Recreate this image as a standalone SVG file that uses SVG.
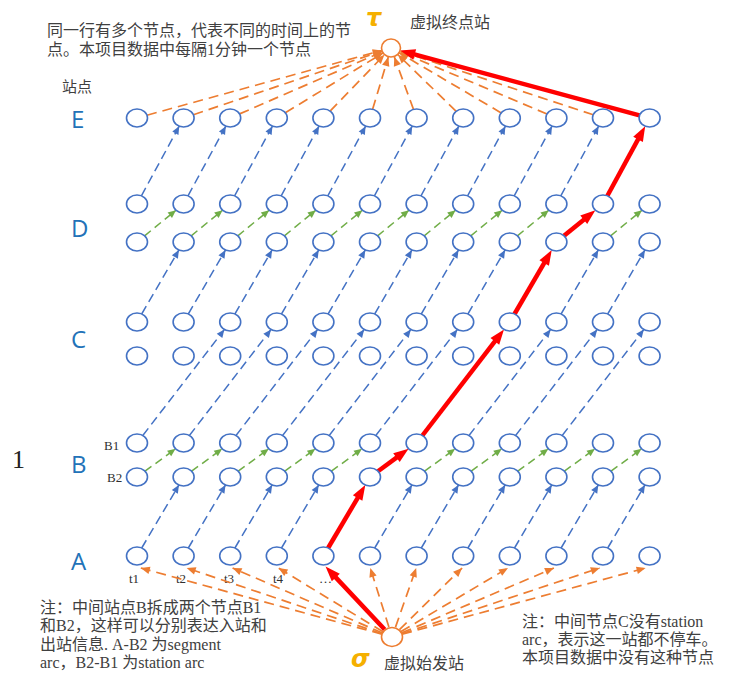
<svg xmlns="http://www.w3.org/2000/svg" width="737" height="675" viewBox="0 0 737 675">
<style>
.n{fill:#fff;stroke:#4472C4;stroke-width:1.6}
.vn{fill:#fff;stroke:#ED7D31;stroke-width:1.6}
.b{fill:none;stroke:#4472C4;stroke-width:1.5;stroke-dasharray:9 5;marker-end:url(#ab)}
.g{fill:none;stroke:#70AD47;stroke-width:1.5;stroke-dasharray:8 5;marker-end:url(#ag)}
.o{fill:none;stroke:#ED7D31;stroke-width:1.7;stroke-dasharray:10 6;marker-end:url(#ao)}
.r{fill:none;stroke:#FF0000;stroke-width:4.5;marker-end:url(#ar)}
.cn{font-family:"Liberation Serif","Noto Sans CJK SC",serif;font-size:16px;fill:#404040}
.sm{font-family:"Liberation Serif","Noto Sans CJK SC",serif;font-size:13px;fill:#303030}
.row{font-family:"Open Sans","Liberation Sans",sans-serif;font-size:24px;fill:#2272B8}
.gk{font-family:"DejaVu Sans",sans-serif;font-size:24px;font-style:italic;font-weight:bold;fill:#F5B000}
</style>
<defs>
<marker id="ab" markerUnits="userSpaceOnUse" markerWidth="9" markerHeight="8" refX="8" refY="3.5" orient="auto" overflow="visible"><path d="M0,0 L8,3.5 L0,7 z" fill="#4472C4"/></marker>
<marker id="ag" markerUnits="userSpaceOnUse" markerWidth="9" markerHeight="8" refX="8" refY="3.5" orient="auto" overflow="visible"><path d="M0,0 L8,3.5 L0,7 z" fill="#70AD47"/></marker>
<marker id="ao" markerUnits="userSpaceOnUse" markerWidth="10" markerHeight="8" refX="9" refY="3.75" orient="auto" overflow="visible"><path d="M0,0 L9,3.75 L0,7.5 z" fill="#ED7D31"/></marker>
<marker id="ar" markerUnits="userSpaceOnUse" markerWidth="16" markerHeight="12" refX="6" refY="5.5" orient="auto" overflow="visible"><path d="M0,0 L15,5.5 L0,11 z" fill="#FF0000"/></marker>
</defs>

<g id="labels">
<text class="cn" x="47" y="36">同一行有多个节点，代表不同的时间上的节</text>
<text class="cn" x="47" y="55">点。本项目数据中每隔1分钟一个节点</text>
<text class="cn" x="62" y="92" style="font-size:15px">站点</text>
<text class="gk" x="366" y="26">τ</text>
<text class="cn" x="410" y="28">虚拟终点站</text>
<text class="row" x="71" y="128">E</text>
<text class="row" x="71" y="237">D</text>
<text class="row" x="71" y="348">C</text>
<text class="row" x="71" y="473">B</text>
<text class="row" x="71" y="570">A</text>
<text x="12" y="468" style="font-family:'Liberation Serif',serif;font-size:26px;fill:#202020">1</text>
<text class="sm" x="104" y="450">B1</text>
<text class="sm" x="107" y="482">B2</text>
<text class="sm" x="129" y="583">t1</text>
<text class="sm" x="176" y="583">t2</text>
<text class="sm" x="224" y="583">t3</text>
<text class="sm" x="273" y="583">t4</text>
<text class="sm" x="319" y="583">…</text>
<text class="cn" x="40" y="613">注：中间站点B拆成两个节点B1</text>
<text class="cn" x="40" y="631">和B2，这样可以分别表达入站和</text>
<text class="cn" x="40" y="650">出站信息. A-B2 为segment</text>
<text class="cn" x="40" y="668">arc，B2-B1 为station arc</text>
<text class="cn" x="522" y="627">注：中间节点C没有station</text>
<text class="cn" x="522" y="645">arc，表示这一站都不停车。</text>
<text class="cn" x="522" y="663">本项目数据中没有这种节点</text>
<text class="gk" x="351" y="667">σ</text>
<text class="cn" x="384" y="669">虚拟始发站</text>
</g>

<g id="connectors">
<!-- A -> B2 segment arcs -->
<line class="b" x1="141.7" y1="548" x2="178.9" y2="485"/>
<line class="b" x1="188.3" y1="548" x2="225.5" y2="485"/>
<line class="b" x1="234.9" y1="548" x2="272.1" y2="485"/>
<line class="b" x1="281.5" y1="548" x2="318.7" y2="485"/>
<line class="b" x1="374.7" y1="548" x2="411.9" y2="485"/>
<line class="b" x1="421.3" y1="548" x2="458.5" y2="485"/>
<line class="b" x1="467.9" y1="548" x2="505.1" y2="485"/>
<line class="b" x1="514.5" y1="548" x2="551.7" y2="485"/>
<line class="b" x1="561.1" y1="548" x2="598.3" y2="485"/>
<line class="b" x1="607.7" y1="548" x2="644.9" y2="485"/>
<!-- B2 -> B1 station arcs -->
<line class="g" x1="145" y1="471.2" x2="175.6" y2="448.8"/>
<line class="g" x1="191.6" y1="471.2" x2="222.2" y2="448.8"/>
<line class="g" x1="238.2" y1="471.2" x2="268.8" y2="448.8"/>
<line class="g" x1="284.8" y1="471.2" x2="315.4" y2="448.8"/>
<line class="g" x1="331.4" y1="471.2" x2="362" y2="448.8"/>
<line class="g" x1="424.6" y1="471.2" x2="455.2" y2="448.8"/>
<line class="g" x1="471.2" y1="471.2" x2="501.8" y2="448.8"/>
<line class="g" x1="517.8" y1="471.2" x2="548.4" y2="448.8"/>
<line class="g" x1="564.4" y1="471.2" x2="595" y2="448.8"/>
<line class="g" x1="611" y1="471.2" x2="641.6" y2="448.8"/>
<!-- B1 -> C1 segment arcs -->
<line class="b" x1="142.8" y1="435.5" x2="224.4" y2="329.5"/>
<line class="b" x1="189.4" y1="435.5" x2="271" y2="329.5"/>
<line class="b" x1="236" y1="435.5" x2="317.6" y2="329.5"/>
<line class="b" x1="282.6" y1="435.5" x2="364.2" y2="329.5"/>
<line class="b" x1="329.2" y1="435.5" x2="410.8" y2="329.5"/>
<line class="b" x1="375.8" y1="435.5" x2="457.4" y2="329.5"/>
<line class="b" x1="469" y1="435.5" x2="550.6" y2="329.5"/>
<line class="b" x1="515.6" y1="435.5" x2="597.2" y2="329.5"/>
<line class="b" x1="562.2" y1="435.5" x2="643.8" y2="329.5"/>
<!-- C1 -> D2 segment arcs -->
<line class="b" x1="141.7" y1="314" x2="178.9" y2="250"/>
<line class="b" x1="188.3" y1="314" x2="225.5" y2="250"/>
<line class="b" x1="234.9" y1="314" x2="272.1" y2="250"/>
<line class="b" x1="281.5" y1="314" x2="318.7" y2="250"/>
<line class="b" x1="328.1" y1="314" x2="365.3" y2="250"/>
<line class="b" x1="374.7" y1="314" x2="411.9" y2="250"/>
<line class="b" x1="421.3" y1="314" x2="458.5" y2="250"/>
<line class="b" x1="467.9" y1="314" x2="505.1" y2="250"/>
<line class="b" x1="561.1" y1="314" x2="598.3" y2="250"/>
<line class="b" x1="607.7" y1="314" x2="644.9" y2="250"/>
<!-- D2 -> D1 station arcs -->
<line class="g" x1="144.6" y1="235.8" x2="176" y2="210.2"/>
<line class="g" x1="191.2" y1="235.8" x2="222.6" y2="210.2"/>
<line class="g" x1="237.8" y1="235.8" x2="269.2" y2="210.2"/>
<line class="g" x1="284.4" y1="235.8" x2="315.8" y2="210.2"/>
<line class="g" x1="331" y1="235.8" x2="362.4" y2="210.2"/>
<line class="g" x1="377.6" y1="235.8" x2="409" y2="210.2"/>
<line class="g" x1="424.2" y1="235.8" x2="455.6" y2="210.2"/>
<line class="g" x1="470.8" y1="235.8" x2="502.2" y2="210.2"/>
<line class="g" x1="517.4" y1="235.8" x2="548.8" y2="210.2"/>
<line class="g" x1="610.6" y1="235.8" x2="642" y2="210.2"/>
<!-- D1 -> E segment arcs -->
<line class="b" x1="141.4" y1="195.8" x2="179.2" y2="126.2"/>
<line class="b" x1="188" y1="195.8" x2="225.8" y2="126.2"/>
<line class="b" x1="234.6" y1="195.8" x2="272.4" y2="126.2"/>
<line class="b" x1="281.2" y1="195.8" x2="319" y2="126.2"/>
<line class="b" x1="327.8" y1="195.8" x2="365.6" y2="126.2"/>
<line class="b" x1="374.4" y1="195.8" x2="412.2" y2="126.2"/>
<line class="b" x1="421" y1="195.8" x2="458.8" y2="126.2"/>
<line class="b" x1="467.6" y1="195.8" x2="505.4" y2="126.2"/>
<line class="b" x1="514.2" y1="195.8" x2="552" y2="126.2"/>
<line class="b" x1="560.8" y1="195.8" x2="598.6" y2="126.2"/>
<!-- E -> tau -->
<line class="o" x1="147" y1="115.2" x2="381.8" y2="50.5"/>
<line class="o" x1="193.4" y1="114.7" x2="382" y2="51"/>
<line class="o" x1="239.6" y1="113.9" x2="382.3" y2="51.8"/>
<line class="o" x1="285.3" y1="112.8" x2="382.9" y2="53"/>
<line class="o" x1="330.1" y1="111.1" x2="384.4" y2="54.8"/>
<line class="o" x1="372.6" y1="109.3" x2="388.3" y2="57.1"/>
<line class="o" x1="413.5" y1="109.4" x2="394.3" y2="56.9"/>
<line class="o" x1="456.2" y1="111.3" x2="397.8" y2="54.6"/>
<line class="o" x1="501.2" y1="112.9" x2="399.2" y2="52.8"/>
<line class="o" x1="547" y1="114" x2="399.8" y2="51.7"/>
<line class="o" x1="593.2" y1="114.8" x2="400" y2="51"/>
<!-- sigma -> A -->
<line class="o" x1="381.9" y1="634.2" x2="140.8" y2="568"/>
<line class="o" x1="382" y1="633.7" x2="186.7" y2="568"/>
<line class="o" x1="382.4" y1="633" x2="232.6" y2="568"/>
<line class="o" x1="383" y1="631.8" x2="278.5" y2="568"/>
<line class="o" x1="388.9" y1="627" x2="370.3" y2="568"/>
<line class="o" x1="395.5" y1="627.1" x2="416.2" y2="568"/>
<line class="o" x1="399.5" y1="629.6" x2="462.1" y2="568"/>
<line class="o" x1="401" y1="631.6" x2="508" y2="568"/>
<line class="o" x1="401.7" y1="632.9" x2="553.9" y2="568"/>
<line class="o" x1="402" y1="633.7" x2="599.8" y2="568"/>
<line class="o" x1="402.1" y1="634.2" x2="645.6" y2="568"/>
<!-- red path -->
<line class="r" x1="384.7" y1="629.5" x2="331.7" y2="573.1"/>
<line class="r" x1="328.1" y1="548" x2="360.7" y2="492.8"/>
<line class="r" x1="378" y1="471.2" x2="401.3" y2="454.1"/>
<line class="r" x1="422.4" y1="435.5" x2="498.5" y2="336.6"/>
<line class="r" x1="514.5" y1="314" x2="547.2" y2="257.9"/>
<line class="r" x1="564" y1="235.8" x2="588.4" y2="215.9"/>
<line class="r" x1="607.4" y1="195.8" x2="640.9" y2="134.1"/>
<line class="r" x1="639.5" y1="115.3" x2="408.9" y2="52.9"/>
</g>

<g id="nodes">
<g id="tau"><ellipse class="vn" cx="391" cy="48" rx="9.5" ry="9"/></g>
<g id="sigma"><ellipse class="vn" cx="392" cy="637" rx="10.5" ry="9.5"/></g>
<g id="E-1"><ellipse class="n" cx="137" cy="118" rx="10.5" ry="9"/></g>
<g id="E-2"><ellipse class="n" cx="183.6" cy="118" rx="10.5" ry="9"/></g>
<g id="E-3"><ellipse class="n" cx="230.2" cy="118" rx="10.5" ry="9"/></g>
<g id="E-4"><ellipse class="n" cx="276.8" cy="118" rx="10.5" ry="9"/></g>
<g id="E-5"><ellipse class="n" cx="323.4" cy="118" rx="10.5" ry="9"/></g>
<g id="E-6"><ellipse class="n" cx="370" cy="118" rx="10.5" ry="9"/></g>
<g id="E-7"><ellipse class="n" cx="416.6" cy="118" rx="10.5" ry="9"/></g>
<g id="E-8"><ellipse class="n" cx="463.2" cy="118" rx="10.5" ry="9"/></g>
<g id="E-9"><ellipse class="n" cx="509.8" cy="118" rx="10.5" ry="9"/></g>
<g id="E-10"><ellipse class="n" cx="556.4" cy="118" rx="10.5" ry="9"/></g>
<g id="E-11"><ellipse class="n" cx="603" cy="118" rx="10.5" ry="9"/></g>
<g id="E-12"><ellipse class="n" cx="649.6" cy="118" rx="10.5" ry="9"/></g>
<g id="D1-1"><ellipse class="n" cx="137" cy="204" rx="10.5" ry="9"/></g>
<g id="D1-2"><ellipse class="n" cx="183.6" cy="204" rx="10.5" ry="9"/></g>
<g id="D1-3"><ellipse class="n" cx="230.2" cy="204" rx="10.5" ry="9"/></g>
<g id="D1-4"><ellipse class="n" cx="276.8" cy="204" rx="10.5" ry="9"/></g>
<g id="D1-5"><ellipse class="n" cx="323.4" cy="204" rx="10.5" ry="9"/></g>
<g id="D1-6"><ellipse class="n" cx="370" cy="204" rx="10.5" ry="9"/></g>
<g id="D1-7"><ellipse class="n" cx="416.6" cy="204" rx="10.5" ry="9"/></g>
<g id="D1-8"><ellipse class="n" cx="463.2" cy="204" rx="10.5" ry="9"/></g>
<g id="D1-9"><ellipse class="n" cx="509.8" cy="204" rx="10.5" ry="9"/></g>
<g id="D1-10"><ellipse class="n" cx="556.4" cy="204" rx="10.5" ry="9"/></g>
<g id="D1-11"><ellipse class="n" cx="603" cy="204" rx="10.5" ry="9"/></g>
<g id="D1-12"><ellipse class="n" cx="649.6" cy="204" rx="10.5" ry="9"/></g>
<g id="D2-1"><ellipse class="n" cx="137" cy="242" rx="10.5" ry="9"/></g>
<g id="D2-2"><ellipse class="n" cx="183.6" cy="242" rx="10.5" ry="9"/></g>
<g id="D2-3"><ellipse class="n" cx="230.2" cy="242" rx="10.5" ry="9"/></g>
<g id="D2-4"><ellipse class="n" cx="276.8" cy="242" rx="10.5" ry="9"/></g>
<g id="D2-5"><ellipse class="n" cx="323.4" cy="242" rx="10.5" ry="9"/></g>
<g id="D2-6"><ellipse class="n" cx="370" cy="242" rx="10.5" ry="9"/></g>
<g id="D2-7"><ellipse class="n" cx="416.6" cy="242" rx="10.5" ry="9"/></g>
<g id="D2-8"><ellipse class="n" cx="463.2" cy="242" rx="10.5" ry="9"/></g>
<g id="D2-9"><ellipse class="n" cx="509.8" cy="242" rx="10.5" ry="9"/></g>
<g id="D2-10"><ellipse class="n" cx="556.4" cy="242" rx="10.5" ry="9"/></g>
<g id="D2-11"><ellipse class="n" cx="603" cy="242" rx="10.5" ry="9"/></g>
<g id="D2-12"><ellipse class="n" cx="649.6" cy="242" rx="10.5" ry="9"/></g>
<g id="C1-1"><ellipse class="n" cx="137" cy="322" rx="10.5" ry="9"/></g>
<g id="C1-2"><ellipse class="n" cx="183.6" cy="322" rx="10.5" ry="9"/></g>
<g id="C1-3"><ellipse class="n" cx="230.2" cy="322" rx="10.5" ry="9"/></g>
<g id="C1-4"><ellipse class="n" cx="276.8" cy="322" rx="10.5" ry="9"/></g>
<g id="C1-5"><ellipse class="n" cx="323.4" cy="322" rx="10.5" ry="9"/></g>
<g id="C1-6"><ellipse class="n" cx="370" cy="322" rx="10.5" ry="9"/></g>
<g id="C1-7"><ellipse class="n" cx="416.6" cy="322" rx="10.5" ry="9"/></g>
<g id="C1-8"><ellipse class="n" cx="463.2" cy="322" rx="10.5" ry="9"/></g>
<g id="C1-9"><ellipse class="n" cx="509.8" cy="322" rx="10.5" ry="9"/></g>
<g id="C1-10"><ellipse class="n" cx="556.4" cy="322" rx="10.5" ry="9"/></g>
<g id="C1-11"><ellipse class="n" cx="603" cy="322" rx="10.5" ry="9"/></g>
<g id="C1-12"><ellipse class="n" cx="649.6" cy="322" rx="10.5" ry="9"/></g>
<g id="C2-1"><ellipse class="n" cx="137" cy="356" rx="10.5" ry="9"/></g>
<g id="C2-2"><ellipse class="n" cx="183.6" cy="356" rx="10.5" ry="9"/></g>
<g id="C2-3"><ellipse class="n" cx="230.2" cy="356" rx="10.5" ry="9"/></g>
<g id="C2-4"><ellipse class="n" cx="276.8" cy="356" rx="10.5" ry="9"/></g>
<g id="C2-5"><ellipse class="n" cx="323.4" cy="356" rx="10.5" ry="9"/></g>
<g id="C2-6"><ellipse class="n" cx="370" cy="356" rx="10.5" ry="9"/></g>
<g id="C2-7"><ellipse class="n" cx="416.6" cy="356" rx="10.5" ry="9"/></g>
<g id="C2-8"><ellipse class="n" cx="463.2" cy="356" rx="10.5" ry="9"/></g>
<g id="C2-9"><ellipse class="n" cx="509.8" cy="356" rx="10.5" ry="9"/></g>
<g id="C2-10"><ellipse class="n" cx="556.4" cy="356" rx="10.5" ry="9"/></g>
<g id="C2-11"><ellipse class="n" cx="603" cy="356" rx="10.5" ry="9"/></g>
<g id="C2-12"><ellipse class="n" cx="649.6" cy="356" rx="10.5" ry="9"/></g>
<g id="B1-1"><ellipse class="n" cx="137" cy="443" rx="10.5" ry="9"/></g>
<g id="B1-2"><ellipse class="n" cx="183.6" cy="443" rx="10.5" ry="9"/></g>
<g id="B1-3"><ellipse class="n" cx="230.2" cy="443" rx="10.5" ry="9"/></g>
<g id="B1-4"><ellipse class="n" cx="276.8" cy="443" rx="10.5" ry="9"/></g>
<g id="B1-5"><ellipse class="n" cx="323.4" cy="443" rx="10.5" ry="9"/></g>
<g id="B1-6"><ellipse class="n" cx="370" cy="443" rx="10.5" ry="9"/></g>
<g id="B1-7"><ellipse class="n" cx="416.6" cy="443" rx="10.5" ry="9"/></g>
<g id="B1-8"><ellipse class="n" cx="463.2" cy="443" rx="10.5" ry="9"/></g>
<g id="B1-9"><ellipse class="n" cx="509.8" cy="443" rx="10.5" ry="9"/></g>
<g id="B1-10"><ellipse class="n" cx="556.4" cy="443" rx="10.5" ry="9"/></g>
<g id="B1-11"><ellipse class="n" cx="603" cy="443" rx="10.5" ry="9"/></g>
<g id="B1-12"><ellipse class="n" cx="649.6" cy="443" rx="10.5" ry="9"/></g>
<g id="B2-1"><ellipse class="n" cx="137" cy="477" rx="10.5" ry="9"/></g>
<g id="B2-2"><ellipse class="n" cx="183.6" cy="477" rx="10.5" ry="9"/></g>
<g id="B2-3"><ellipse class="n" cx="230.2" cy="477" rx="10.5" ry="9"/></g>
<g id="B2-4"><ellipse class="n" cx="276.8" cy="477" rx="10.5" ry="9"/></g>
<g id="B2-5"><ellipse class="n" cx="323.4" cy="477" rx="10.5" ry="9"/></g>
<g id="B2-6"><ellipse class="n" cx="370" cy="477" rx="10.5" ry="9"/></g>
<g id="B2-7"><ellipse class="n" cx="416.6" cy="477" rx="10.5" ry="9"/></g>
<g id="B2-8"><ellipse class="n" cx="463.2" cy="477" rx="10.5" ry="9"/></g>
<g id="B2-9"><ellipse class="n" cx="509.8" cy="477" rx="10.5" ry="9"/></g>
<g id="B2-10"><ellipse class="n" cx="556.4" cy="477" rx="10.5" ry="9"/></g>
<g id="B2-11"><ellipse class="n" cx="603" cy="477" rx="10.5" ry="9"/></g>
<g id="B2-12"><ellipse class="n" cx="649.6" cy="477" rx="10.5" ry="9"/></g>
<g id="A-1"><ellipse class="n" cx="137" cy="556" rx="10.5" ry="9"/></g>
<g id="A-2"><ellipse class="n" cx="183.6" cy="556" rx="10.5" ry="9"/></g>
<g id="A-3"><ellipse class="n" cx="230.2" cy="556" rx="10.5" ry="9"/></g>
<g id="A-4"><ellipse class="n" cx="276.8" cy="556" rx="10.5" ry="9"/></g>
<g id="A-5"><ellipse class="n" cx="323.4" cy="556" rx="10.5" ry="9"/></g>
<g id="A-6"><ellipse class="n" cx="370" cy="556" rx="10.5" ry="9"/></g>
<g id="A-7"><ellipse class="n" cx="416.6" cy="556" rx="10.5" ry="9"/></g>
<g id="A-8"><ellipse class="n" cx="463.2" cy="556" rx="10.5" ry="9"/></g>
<g id="A-9"><ellipse class="n" cx="509.8" cy="556" rx="10.5" ry="9"/></g>
<g id="A-10"><ellipse class="n" cx="556.4" cy="556" rx="10.5" ry="9"/></g>
<g id="A-11"><ellipse class="n" cx="603" cy="556" rx="10.5" ry="9"/></g>
<g id="A-12"><ellipse class="n" cx="649.6" cy="556" rx="10.5" ry="9"/></g>
</g>
</svg>
